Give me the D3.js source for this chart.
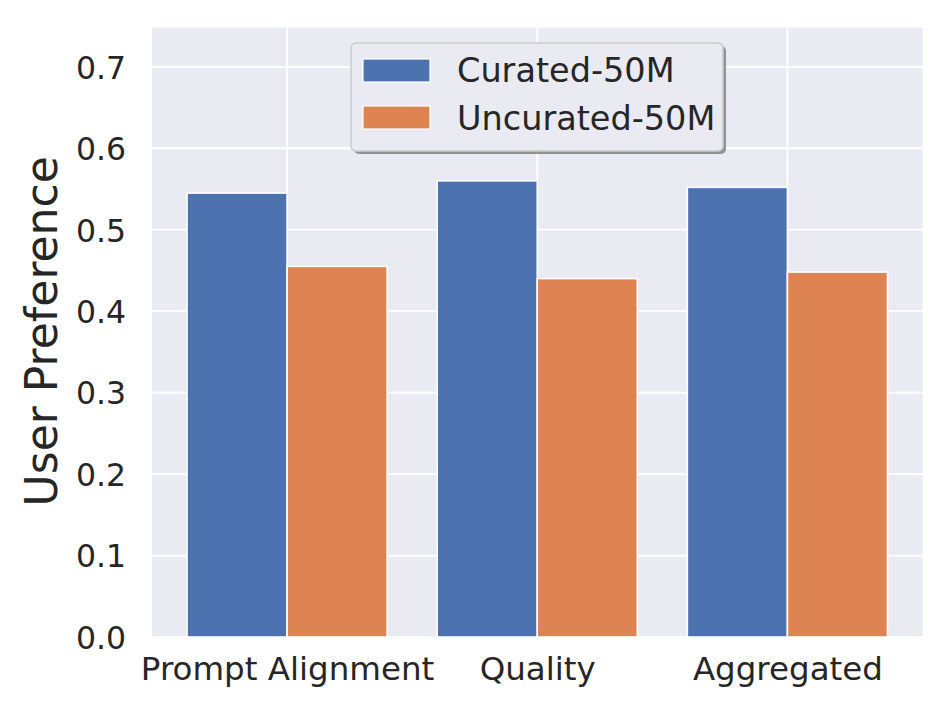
<!DOCTYPE html>
<html><head><meta charset="utf-8">
<script src="https://cdn.jsdelivr.net/npm/d3@7"></script>
<style>body{margin:0;background:#fff;} text{font-family:"DejaVu Sans",sans-serif;fill:#262626;}</style>
</head><body>
<svg id="c" width="951" height="713"></svg>
<script>
const categories = ["Prompt Alignment", "Quality", "Aggregated"];
const seriesNames = ["Curated-50M", "Uncurated-50M"];
const curated = [0.545, 0.560, 0.552];
const uncurated = [0.455, 0.440, 0.448];
const yTicks = [0.0, 0.1, 0.2, 0.3, 0.4, 0.5, 0.6, 0.7];
const colors = ["#4c72b0", "#dd8452"];

const svg = d3.select("#c");
const L = 152, R = 922.5, T = 27.7, B = 637;
const x = d3.scaleLinear().domain([-0.54, 2.54]).range([L, R]);
const y = d3.scaleLinear().domain([0, 0.748]).range([B, T]);

svg.append("rect").attr("x", L).attr("y", T).attr("width", R - L).attr("height", B - T).attr("fill", "#eaeaf2");

const g = svg.append("g");
g.selectAll(".hg").data(yTicks).join("line")
  .attr("x1", L).attr("x2", R).attr("y1", d => y(d)).attr("y2", d => y(d))
  .attr("stroke", "#fff").attr("stroke-width", 1.8);
g.selectAll(".vg").data(categories).join("line")
  .attr("x1", (d, i) => x(i)).attr("x2", (d, i) => x(i)).attr("y1", T).attr("y2", B)
  .attr("stroke", "#fff").attr("stroke-width", 1.8);

const series = [curated, uncurated];
series.forEach((vals, s) => {
  g.selectAll(".b" + s).data(vals).join("rect")
    .attr("x", (d, i) => x(i - 0.4 + 0.4 * s))
    .attr("width", x(0.4) - x(0))
    .attr("y", d => y(d))
    .attr("height", d => y(0) - y(d))
    .attr("fill", colors[s]).attr("stroke", "#fff").attr("stroke-width", 1.6);
});

// axes
const yAxis = d3.axisLeft(y).tickValues(yTicks).tickFormat(d3.format(".1f")).tickSize(0).tickPadding(26);
const ya = svg.append("g").attr("transform", `translate(${L},0)`).call(yAxis);
ya.select(".domain").remove();
ya.selectAll("text").style("font-size", "31.5px").attr("fill", "#262626").attr("dy", "0.36em");

const xAxis = d3.axisBottom(x).tickValues([0, 1, 2]).tickFormat(i => categories[i]).tickSize(0).tickPadding(20);
const xa = svg.append("g").attr("transform", `translate(0,${B})`).call(xAxis);
xa.select(".domain").remove();
xa.selectAll("text").style("font-size", "32.5px").attr("fill", "#262626");

svg.append("text").attr("transform", `translate(57,${(T + B) / 2 - 1}) rotate(-90)`)
  .attr("text-anchor", "middle").style("font-size", "44px").text("User Preference");

// legend
const lg = svg.append("g");
const lx = 351, ly = 43, lw = 372, lh = 108;
lg.append("rect").attr("x", lx + 3).attr("y", ly + 3).attr("width", lw).attr("height", lh).attr("rx", 5)
  .attr("fill", "#888").attr("opacity", 0.9);
lg.append("rect").attr("x", lx).attr("y", ly).attr("width", lw).attr("height", lh).attr("rx", 5)
  .attr("fill", "#eaeaf2").attr("stroke", "#cccccc").attr("stroke-width", 1.5);
seriesNames.forEach((n, i) => {
  lg.append("rect").attr("x", 363).attr("y", 59 + i * 47).attr("width", 67).attr("height", 23)
    .attr("fill", colors[i]).attr("stroke", "#fff").attr("stroke-width", 1.2);
  lg.append("text").attr("x", 457).attr("y", 82 + i * 48).style("font-size", "33.5px").text(n);
});
</script>
</body></html>
